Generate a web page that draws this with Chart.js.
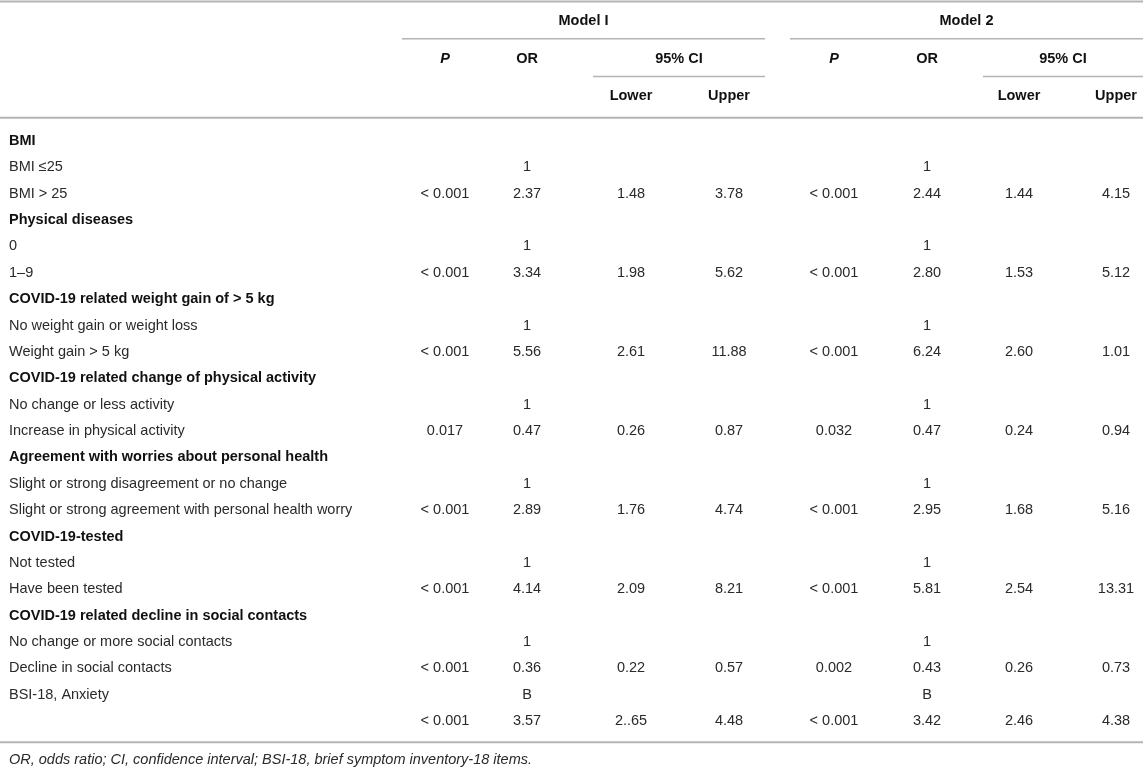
<!DOCTYPE html>
<html>
<head>
<meta charset="utf-8">
<script src="https://cdn.jsdelivr.net/npm/chart.js@4.4.0/dist/chart.umd.min.js"></script>
<style>
  html, body { margin: 0; padding: 0; background: #fff; }
  #wrap { width: 1143px; height: 769px; }
</style>
</head>
<body>
<div id="wrap"><canvas id="tableChart" width="1143" height="769"></canvas></div>
<script>
// 行ラベル（左列）
const rowLabels = [
    'BMI', 'BMI ≤25', 'BMI > 25',
    'Physical diseases', '0', '1–9',
    'COVID-19 related weight gain of > 5 kg', 'No weight gain or weight loss', 'Weight gain > 5 kg',
    'COVID-19 related change of physical activity', 'No change or less activity', 'Increase in physical activity',
    'Agreement with worries about personal health', 'Slight or strong disagreement or no change', 'Slight or strong agreement with personal health worry',
    'COVID-19-tested', 'Not tested', 'Have been tested',
    'COVID-19 related decline in social contacts', 'No change or more social contacts', 'Decline in social contacts',
    'BSI-18, Anxiety', ''
];
const groupRows = [0, 3, 6, 9, 12, 15, 18];

// Model I
const m1P     = ['', '', '< 0.001', '', '', '< 0.001', '', '', '< 0.001', '', '', '0.017', '', '', '< 0.001', '', '', '< 0.001', '', '', '< 0.001', '', '< 0.001'];
const m1OR    = ['', '1', '2.37', '', '1', '3.34', '', '1', '5.56', '', '1', '0.47', '', '1', '2.89', '', '1', '4.14', '', '1', '0.36', 'B', '3.57'];
const m1Lower = ['', '', '1.48', '', '', '1.98', '', '', '2.61', '', '', '0.26', '', '', '1.76', '', '', '2.09', '', '', '0.22', '', '2..65'];
const m1Upper = ['', '', '3.78', '', '', '5.62', '', '', '11.88', '', '', '0.87', '', '', '4.74', '', '', '8.21', '', '', '0.57', '', '4.48'];

// Model 2
const m2P     = ['', '', '< 0.001', '', '', '< 0.001', '', '', '< 0.001', '', '', '0.032', '', '', '< 0.001', '', '', '< 0.001', '', '', '0.002', '', '< 0.001'];
const m2OR    = ['', '1', '2.44', '', '1', '2.80', '', '1', '6.24', '', '1', '0.47', '', '1', '2.95', '', '1', '5.81', '', '1', '0.43', 'B', '3.42'];
const m2Lower = ['', '', '1.44', '', '', '1.53', '', '', '2.60', '', '', '0.24', '', '', '1.68', '', '', '2.54', '', '', '0.26', '', '2.46'];
const m2Upper = ['', '', '4.15', '', '', '5.12', '', '', '1.01', '', '', '0.94', '', '', '5.16', '', '', '13.31', '', '', '0.73', '', '4.38'];

const headerModels = ['Model I', 'Model 2'];
const headerCols = ['P', 'OR', '95% CI'];
const headerSub = ['Lower', 'Upper'];
const footnote = 'OR, odds ratio; CI, confidence interval; BSI-18, brief symptom inventory-18 items.';

// レイアウト（横位置はピクセル単位のx軸、縦位置は行番号のy軸）
const labelX = 9;
const colX = [445, 527, 631, 729, 834, 927, 1019, 1116];
const modelSpans = [[402, 765], [790, 1143]];
const ciSpans = [[593, 765], [983, 1143]];
const yHead = { top: -5.29, model: -4.55, modelLine: -3.88, cols: -3.12, ciLine: -2.45, sub: -1.72, headLine: -0.88, bottom: 22.8, note: 23.48 };

const FONT = '"Liberation Sans", Arial, Helvetica, sans-serif';
const SIZE = '14.5px ';
const TEXT = '#2a2a2a';
const LINE = '#b4b4b4';

function columnDataset(values, x) {
    return {
        data: values.map((v, i) => ({ x: x, y: i })),
        cellText: values,
        pointRadius: 0,
        showLine: false
    };
}

const tableText = {
    id: 'tableText',
    afterDatasetsDraw(chart) {
        const ctx = chart.ctx;
        const xs = chart.scales.x;
        const ys = chart.scales.y;
        ctx.save();
        ctx.textBaseline = 'middle';

        // 罫線
        const hline = (x0, x1, yv, w) => {
            const py = ys.getPixelForValue(yv);
            ctx.beginPath();
            ctx.lineWidth = w;
            ctx.strokeStyle = LINE;
            ctx.moveTo(xs.getPixelForValue(x0), py);
            ctx.lineTo(xs.getPixelForValue(x1), py);
            ctx.stroke();
        };
        hline(0, 1143, yHead.top, 2);
        modelSpans.forEach(s => hline(s[0], s[1], yHead.modelLine, 1.5));
        ciSpans.forEach(s => hline(s[0], s[1], yHead.ciLine, 1.5));
        hline(0, 1143, yHead.headLine, 2);
        hline(0, 1143, yHead.bottom, 2);

        // ヘッダー
        ctx.fillStyle = '#111';
        ctx.textAlign = 'center';
        modelSpans.forEach((s, m) => {
            ctx.font = 'bold ' + SIZE + FONT;
            ctx.fillText(headerModels[m], xs.getPixelForValue((s[0] + s[1]) / 2), ys.getPixelForValue(yHead.model));
            const base = m * 4;
            ctx.font = 'italic bold ' + SIZE + FONT;
            ctx.fillText(headerCols[0], xs.getPixelForValue(colX[base]), ys.getPixelForValue(yHead.cols));
            ctx.font = 'bold ' + SIZE + FONT;
            ctx.fillText(headerCols[1], xs.getPixelForValue(colX[base + 1]), ys.getPixelForValue(yHead.cols));
            ctx.fillText(headerCols[2], xs.getPixelForValue((ciSpans[m][0] + ciSpans[m][1]) / 2), ys.getPixelForValue(yHead.cols));
            ctx.fillText(headerSub[0], xs.getPixelForValue(colX[base + 2]), ys.getPixelForValue(yHead.sub));
            ctx.fillText(headerSub[1], xs.getPixelForValue(colX[base + 3]), ys.getPixelForValue(yHead.sub));
        });

        // セル
        chart.data.datasets.forEach((ds, di) => {
            const meta = chart.getDatasetMeta(di);
            meta.data.forEach((pt, i) => {
                const txt = ds.cellText[i];
                if (!txt) return;
                if (di === 0) {
                    const bold = groupRows.includes(i);
                    ctx.font = (bold ? 'bold ' : '') + SIZE + FONT;
                    ctx.fillStyle = bold ? '#111' : TEXT;
                    ctx.textAlign = 'left';
                } else {
                    ctx.font = SIZE + FONT;
                    ctx.fillStyle = TEXT;
                    ctx.textAlign = 'center';
                }
                ctx.fillText(txt, pt.x, pt.y);
            });
        });

        // 脚注
        ctx.font = 'italic ' + SIZE + FONT;
        ctx.fillStyle = TEXT;
        ctx.textAlign = 'left';
        ctx.fillText(footnote, xs.getPixelForValue(labelX), ys.getPixelForValue(yHead.note));
        ctx.restore();
    }
};

const columns = [rowLabels, m1P, m1OR, m1Lower, m1Upper, m2P, m2OR, m2Lower, m2Upper];
const columnX = [labelX].concat(colX);

new Chart(document.getElementById('tableChart').getContext('2d'), {
    type: 'scatter',
    data: { datasets: columns.map((c, i) => columnDataset(c, columnX[i])) },
    options: {
        responsive: false,
        animation: false,
        events: [],
        layout: { padding: 0 },
        scales: {
            x: { type: 'linear', display: false, min: 0, max: 1143 },
            y: { type: 'linear', display: false, reverse: true, min: -5.347, max: 23.814 }
        },
        plugins: { legend: { display: false }, tooltip: { enabled: false } }
    },
    plugins: [tableText]
});
</script>
</body>
</html>
